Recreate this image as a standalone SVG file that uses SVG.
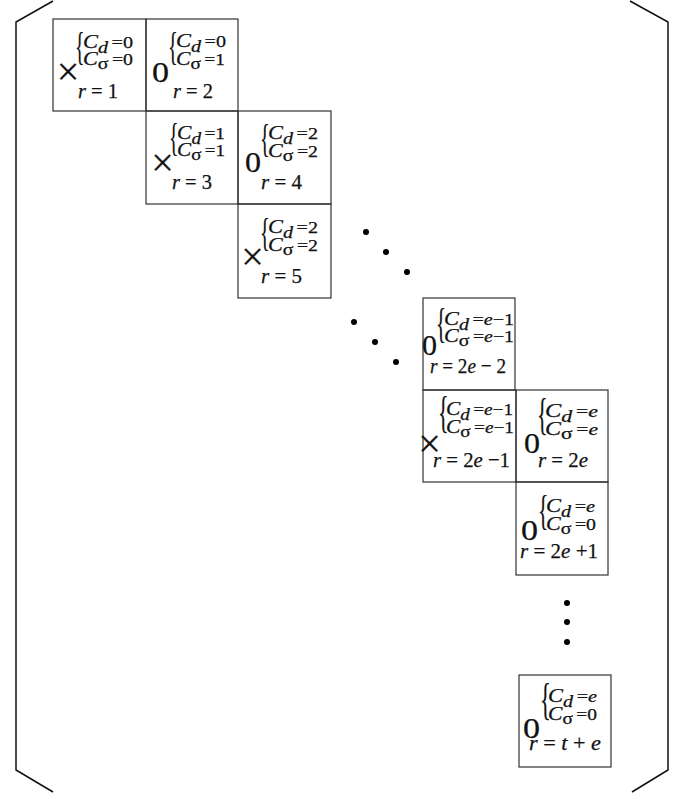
<svg xmlns="http://www.w3.org/2000/svg" width="684" height="795" viewBox="0 0 684 795">
<style>
.bg{fill:#fff}
.box{fill:none;stroke:#333;stroke-width:1.2}
.brk{fill:none;stroke:#111;stroke-width:1.5}
.dot{fill:#000}
text{stroke:#111;stroke-width:0.25}
.c{font-family:"Liberation Serif",serif;font-style:italic;font-size:19px;fill:#111}
.sub{font-size:17px}
.sig{font-style:normal}
.eq{font-size:17px;font-style:normal}
.it{font-style:italic}
.r{font-family:"Liberation Serif",serif;font-size:21px;fill:#111}
.rb{font-size:22px}
.brace{font-family:"Liberation Serif",serif;fill:#111}
.x{font-family:"Liberation Serif",serif;font-size:40px;text-anchor:middle;fill:#111}
.o{font-family:"Liberation Serif",serif;font-size:29px;fill:#111}
</style>
<rect class="bg" width="684" height="795"/>
<g id="brackets">
<polyline class="brk" points="53,1 16,22 16,770 53,792"/>
<polyline class="brk" points="630,1 668,22 668,770 632,792"/>
</g>
<g id="box-1" transform="translate(53,19)">
<rect class="box" width="93" height="92"/>
<text class="brace" font-size="39.4" transform="translate(22,40.9) scale(0.5,1)">{</text>
<text class="c" x="30" y="29" textLength="50" lengthAdjust="spacingAndGlyphs">C<tspan class="sub" dy="5">d</tspan><tspan class="eq" dx="3" dy="-5">=0</tspan></text>
<text class="c" x="30" y="46" textLength="50" lengthAdjust="spacingAndGlyphs">C<tspan class="sub sig" dy="4">σ</tspan><tspan class="eq" dx="3" dy="-4">=0</tspan></text>
<text class="x" x="15" y="65.5">×</text>
<text class="r" x="25" y="79" textLength="40" lengthAdjust="spacingAndGlyphs"><tspan class="it">r</tspan> = 1</text>
</g>
<g id="box-2" transform="translate(146,19)">
<rect class="box" width="92" height="92"/>
<text class="brace" font-size="40.5" transform="translate(22,40.7) scale(0.5,1)">{</text>
<text class="c" x="30" y="28" textLength="50" lengthAdjust="spacingAndGlyphs">C<tspan class="sub" dy="5">d</tspan><tspan class="eq" dx="3" dy="-5">=0</tspan></text>
<text class="c" x="30" y="46" textLength="49" lengthAdjust="spacingAndGlyphs">C<tspan class="sub sig" dy="4">σ</tspan><tspan class="eq" dx="3" dy="-4">=1</tspan></text>
<text class="o" x="6" y="63" textLength="17" lengthAdjust="spacingAndGlyphs">0</text>
<text class="r" x="27" y="79" textLength="40" lengthAdjust="spacingAndGlyphs"><tspan class="it">r</tspan> = 2</text>
</g>
<g id="box-3" transform="translate(146,111)">
<rect class="box" width="92" height="93"/>
<text class="brace" font-size="39.4" transform="translate(23,39.9) scale(0.5,1)">{</text>
<text class="c" x="31" y="28" textLength="48" lengthAdjust="spacingAndGlyphs">C<tspan class="sub" dy="5">d</tspan><tspan class="eq" dx="3" dy="-5">=1</tspan></text>
<text class="c" x="31" y="45" textLength="48" lengthAdjust="spacingAndGlyphs">C<tspan class="sub sig" dy="4">σ</tspan><tspan class="eq" dx="3" dy="-4">=1</tspan></text>
<text class="x" x="16.5" y="65">×</text>
<text class="r" x="26" y="78" textLength="40" lengthAdjust="spacingAndGlyphs"><tspan class="it">r</tspan> = 3</text>
</g>
<g id="box-4" transform="translate(238,111)">
<rect class="box" width="93" height="93"/>
<text class="brace" font-size="40.5" transform="translate(22,40.7) scale(0.5,1)">{</text>
<text class="c" x="30" y="28" textLength="50" lengthAdjust="spacingAndGlyphs">C<tspan class="sub" dy="5">d</tspan><tspan class="eq" dx="3" dy="-5">=2</tspan></text>
<text class="c" x="30" y="46" textLength="50" lengthAdjust="spacingAndGlyphs">C<tspan class="sub sig" dy="4">σ</tspan><tspan class="eq" dx="3" dy="-4">=2</tspan></text>
<text class="o" x="7" y="61" textLength="16" lengthAdjust="spacingAndGlyphs">0</text>
<text class="r" x="23" y="78" textLength="41" lengthAdjust="spacingAndGlyphs"><tspan class="it">r</tspan> = 4</text>
</g>
<g id="box-5" transform="translate(238,204)">
<rect class="box" width="93" height="94"/>
<text class="brace" font-size="40.5" transform="translate(22,41.7) scale(0.5,1)">{</text>
<text class="c" x="30" y="29" textLength="50" lengthAdjust="spacingAndGlyphs">C<tspan class="sub" dy="5">d</tspan><tspan class="eq" dx="3" dy="-5">=2</tspan></text>
<text class="c" x="30" y="47" textLength="50" lengthAdjust="spacingAndGlyphs">C<tspan class="sub sig" dy="4">σ</tspan><tspan class="eq" dx="3" dy="-4">=2</tspan></text>
<text class="x" x="14.5" y="65.5">×</text>
<text class="r" x="23" y="79" textLength="41" lengthAdjust="spacingAndGlyphs"><tspan class="it">r</tspan> = 5</text>
</g>
<g id="box-6" transform="translate(423,298)">
<rect class="box" width="92" height="92"/>
<text class="brace" font-size="41.7" transform="translate(13,38.5) scale(0.5,1)">{</text>
<text class="c" x="21" y="27" textLength="70" lengthAdjust="spacingAndGlyphs">C<tspan class="sub" dy="5">d</tspan><tspan class="eq" dx="3" dy="-5">=<tspan class="it">e</tspan>−1</tspan></text>
<text class="c" x="21" y="44" textLength="70" lengthAdjust="spacingAndGlyphs">C<tspan class="sub sig" dy="4">σ</tspan><tspan class="eq" dx="3" dy="-4">=<tspan class="it">e</tspan>−1</tspan></text>
<text class="o" x="-1" y="57" textLength="15" lengthAdjust="spacingAndGlyphs">0</text>
<text class="r rb" x="7" y="75" textLength="76" lengthAdjust="spacingAndGlyphs"><tspan class="it">r</tspan> = 2<tspan class="it">e</tspan> − 2</text>
</g>
<g id="box-7" transform="translate(423,390)">
<rect class="box" width="93" height="92"/>
<text class="brace" font-size="44" transform="translate(15,37) scale(0.5,1)">{</text>
<text class="c" x="23" y="25" textLength="67" lengthAdjust="spacingAndGlyphs">C<tspan class="sub" dy="5">d</tspan><tspan class="eq" dx="3" dy="-5">=<tspan class="it">e</tspan>−1</tspan></text>
<text class="c" x="23" y="43" textLength="68" lengthAdjust="spacingAndGlyphs">C<tspan class="sub sig" dy="4">σ</tspan><tspan class="eq" dx="3" dy="-4">=<tspan class="it">e</tspan>−1</tspan></text>
<text class="x" x="6.5" y="67">×</text>
<text class="r rb" x="10" y="77" textLength="77" lengthAdjust="spacingAndGlyphs"><tspan class="it">r</tspan> = 2<tspan class="it">e</tspan> −1</text>
</g>
<g id="box-8" transform="translate(516,390)">
<rect class="box" width="92" height="92"/>
<text class="brace" font-size="44" transform="translate(21,39) scale(0.5,1)">{</text>
<text class="c" x="29" y="27" textLength="53" lengthAdjust="spacingAndGlyphs">C<tspan class="sub" dy="5">d</tspan><tspan class="eq" dx="3" dy="-5">=<tspan class="it">e</tspan></tspan></text>
<text class="c" x="29" y="45" textLength="53" lengthAdjust="spacingAndGlyphs">C<tspan class="sub sig" dy="4">σ</tspan><tspan class="eq" dx="3" dy="-4">=<tspan class="it">e</tspan></tspan></text>
<text class="o" x="8" y="63" textLength="16" lengthAdjust="spacingAndGlyphs">0</text>
<text class="r rb" x="22" y="77" textLength="50" lengthAdjust="spacingAndGlyphs"><tspan class="it">r</tspan> = 2<tspan class="it">e</tspan></text>
</g>
<g id="box-9" transform="translate(516,482)">
<rect class="box" width="92" height="93"/>
<text class="brace" font-size="42.8" transform="translate(22,42.2) scale(0.5,1)">{</text>
<text class="c" x="30" y="30" textLength="49" lengthAdjust="spacingAndGlyphs">C<tspan class="sub" dy="5">d</tspan><tspan class="eq" dx="3" dy="-5">=<tspan class="it">e</tspan></tspan></text>
<text class="c" x="30" y="48" textLength="50" lengthAdjust="spacingAndGlyphs">C<tspan class="sub sig" dy="4">σ</tspan><tspan class="eq" dx="3" dy="-4">=0</tspan></text>
<text class="o" x="5" y="58" textLength="17" lengthAdjust="spacingAndGlyphs">0</text>
<text class="r rb" x="4" y="76" textLength="78" lengthAdjust="spacingAndGlyphs"><tspan class="it">r</tspan> = 2<tspan class="it">e</tspan> +1</text>
</g>
<g id="box-10" transform="translate(519,675)">
<rect class="box" width="92" height="92"/>
<text class="brace" font-size="45" transform="translate(21,38.7) scale(0.5,1)">{</text>
<text class="c" x="29" y="27" textLength="49" lengthAdjust="spacingAndGlyphs">C<tspan class="sub" dy="5">d</tspan><tspan class="eq" dx="3" dy="-5">=<tspan class="it">e</tspan></tspan></text>
<text class="c" x="29" y="45" textLength="49" lengthAdjust="spacingAndGlyphs">C<tspan class="sub sig" dy="4">σ</tspan><tspan class="eq" dx="3" dy="-4">=0</tspan></text>
<text class="o" x="4" y="63" textLength="17" lengthAdjust="spacingAndGlyphs">0</text>
<text class="r rb" x="10" y="75" textLength="72" lengthAdjust="spacingAndGlyphs"><tspan class="it">r</tspan> = <tspan class="it">t</tspan> + <tspan class="it">e</tspan></text>
</g>
<g id="ellipses">
<circle class="dot" cx="366" cy="232" r="3"/>
<circle class="dot" cx="386" cy="252" r="3"/>
<circle class="dot" cx="407" cy="272" r="3"/>
<circle class="dot" cx="354" cy="322" r="3"/>
<circle class="dot" cx="375" cy="342" r="3"/>
<circle class="dot" cx="396" cy="362" r="3"/>
<circle class="dot" cx="567" cy="603" r="3"/>
<circle class="dot" cx="567" cy="622" r="3"/>
<circle class="dot" cx="567" cy="642" r="3"/>
</g>
</svg>
